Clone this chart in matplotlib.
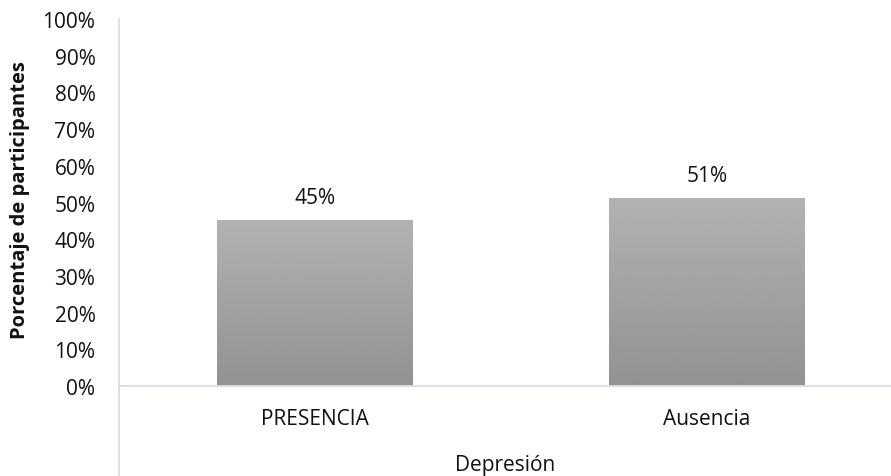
import numpy as np
import matplotlib.pyplot as plt
from matplotlib.ticker import FuncFormatter

# --------------------------------------------------
# Data
# --------------------------------------------------
categories = ["PRESENCIA", "Ausencia"]
values = [45, 51]
y_ticks = list(range(0, 101, 10))

plt.rcParams["font.family"] = ["Open Sans", "DejaVu Sans"]

axis_color = "#d9dee6"
text_color = "#111111"
fs = 15

# --------------------------------------------------
# Figure / axes
# --------------------------------------------------
fig = plt.figure(figsize=(8.91, 4.77), dpi=100)
ax = fig.add_axes([0.1336, 90 / 477, 1 - 0.1336, 367 / 477])

x = np.arange(len(categories))
bar_w = 0.5

# gradient bars: lighter on top, darker at the base
grad = np.linspace(146, 178, 256)[:, None] / 255.0
grad = np.repeat(grad, 2, axis=1)
bars = ax.bar(x, values, width=bar_w, color="none", edgecolor="none", zorder=2)
for b, v in zip(bars, values):
    x0 = b.get_x()
    ax.imshow(grad, cmap="gray", vmin=0, vmax=1, origin="lower",
              extent=[x0, x0 + bar_w, 0, v], aspect="auto", zorder=2,
              interpolation="bilinear")
    ax.text(b.get_x() + bar_w / 2, v + 3.6, f"{v}%", ha="center", va="bottom",
            fontsize=fs, color=text_color)

ax.set_xlim(-0.5, 1.47)
ax.set_ylim(0, 100)
ax.set_yticks(y_ticks)
ax.yaxis.set_major_formatter(FuncFormatter(lambda v, p: f"{int(v)}%"))
ax.tick_params(axis="y", length=0, pad=17, labelsize=fs, labelcolor=text_color)
ax.set_xticks([])

for s in ["top", "right", "left"]:
    ax.spines[s].set_visible(False)
ax.spines["bottom"].set_color(axis_color)
ax.spines["bottom"].set_linewidth(1.3)

# left axis line runs down through the category label area
ax.plot([-0.5, -0.5], [100, -90 / 3.67], color=axis_color, lw=1.3,
        clip_on=False, zorder=3)

# category labels and axis titles
for xi, c in zip(x, categories):
    ax.text(xi, -33 / 3.67, c, ha="center", va="center", fontsize=fs,
            color=text_color)
ax.text(0.5, -79 / 367, "Depresión", transform=ax.transAxes, ha="center",
        va="center", fontsize=fs, color=text_color)
fig.text(20 / 891, 1 - 200 / 477, "Porcentaje de participantes", rotation=90,
         ha="center", va="center", fontsize=14.5, fontweight="bold",
         color=text_color)

fig.savefig("out.png", dpi=100)
